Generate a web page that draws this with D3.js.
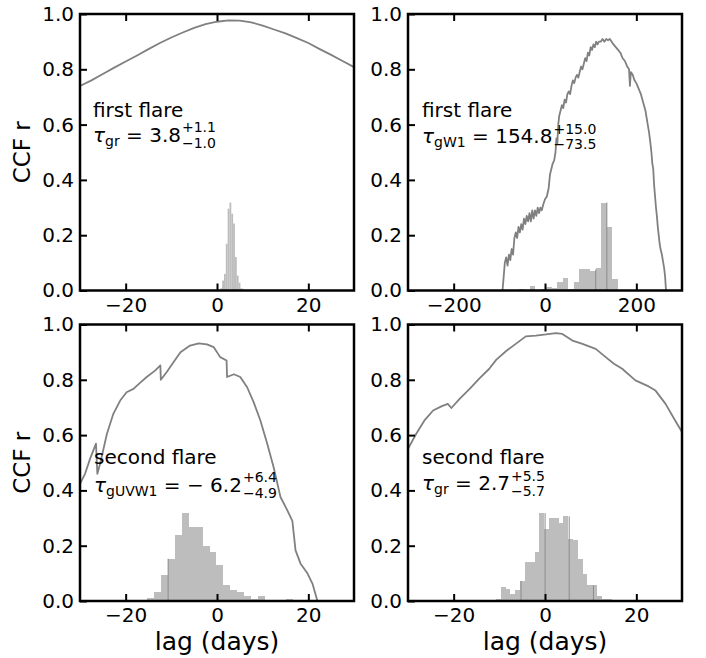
<!DOCTYPE html>
<html><head><meta charset="utf-8">
<script src="https://cdn.jsdelivr.net/npm/d3@7"></script>
<style>body{margin:0;background:#fff} svg{display:block} text{font-family:"DejaVu Sans",sans-serif}</style>
</head><body><svg id="c" width="706" height="658"></svg>
<script>
// ---------- data ----------
const yTicks = [0, 0.2, 0.4, 0.6, 0.8, 1.0];
const xTicksShort = [-20, 0, 20];
const xTicksLong = [-200, 0, 200];

// Panel A: first flare, g vs r
const aLag = [-30,-27.5,-25,-22.5,-20,-17.5,-15,-12.5,-10,-7.5,-5,-2.5,0,2.5,5,7.5,10,12.5,15,17.5,20,22.5,25,27.5,30];
const aR   = [0.740,0.760,0.783,0.806,0.828,0.850,0.873,0.895,0.915,0.933,0.950,0.963,0.972,0.977,0.976,0.970,0.958,0.944,0.930,0.913,0.895,0.873,0.852,0.830,0.808];
const aBinStart = 0.33, aBinWidth = 0.4;
const aHist = [0.002,0.008,0.036,0.060,0.169,0.296,0.318,0.278,0.242,0.121,0.054,0.028,0.008,0.006,0.002];
const aEdges = [];

// Panel B: first flare, g vs W1
const bLag = [-93,-88,-85,-82,-79,-76,-73,-70,-67,-64,-61,-58,-55,-52,-49,-46,-43,-40,-37,-34,-31,-28,-25,-22,-19,-16,-13,-10,-7,-4,0,4,8,11,14,17,20,23,25,27,29,31,34,37,40,43,46,49,52,55,58,61,64,67,70,73,76,79,82,85,88,91,94,97,100,103,106,109,112,115,118,122,126,130,134,138,142,146,150,155,160,165,170,175,180,184,186,188,192,196,200,205,210,215,220,224,228,231,233,235,237,239,241,243,245,247,249,251,253,256,259,261,263,265];
const bR   = [0,0.10,0.12,0.09,0.13,0.11,0.15,0.13,0.19,0.21,0.19,0.23,0.21,0.24,0.22,0.26,0.24,0.27,0.25,0.28,0.25,0.29,0.26,0.29,0.27,0.30,0.28,0.30,0.29,0.31,0.33,0.34,0.37,0.42,0.44,0.46,0.47,0.50,0.55,0.53,0.60,0.63,0.65,0.67,0.66,0.69,0.68,0.71,0.72,0.71,0.74,0.76,0.75,0.77,0.78,0.77,0.79,0.81,0.80,0.82,0.84,0.83,0.86,0.85,0.88,0.87,0.89,0.88,0.90,0.89,0.90,0.90,0.91,0.90,0.91,0.905,0.91,0.90,0.89,0.88,0.87,0.86,0.84,0.83,0.81,0.80,0.74,0.79,0.78,0.76,0.75,0.73,0.71,0.68,0.65,0.61,0.57,0.53,0.50,0.46,0.44,0.38,0.34,0.30,0.27,0.23,0.20,0.17,0.15,0.13,0.10,0.08,0.05,0];
const bBinStart = -57.8, bBinWidth = 12.07;
const bHist = [0.006,0,0.0145,0,0.006,0.012,0.010,0.030,0.0435,0.006,0.030,0.076,0.076,0.069,0.080,0.318,0.228,0.042];
const bEdges = [111.0, 135.4];

// Panel C: second flare, g vs UVW1
const cLag = [-30,-28.9,-27.8,-26.5,-26.2,-25.6,-24.1,-22.7,-21.2,-19.8,-18.3,-16.8,-15.4,-13.5,-12.4,-12.3,-11,-9.5,-8,-5.9,-4,-2.2,-0.7,0.7,2.1,2.2,3.7,5.1,6.6,8,9.5,11,12.4,13.9,15.4,16.5,17.2,18.3,19.8,20.9,22];
const cR   = [0.424,0.46,0.514,0.569,0.46,0.496,0.605,0.677,0.725,0.755,0.767,0.79,0.81,0.834,0.852,0.80,0.828,0.864,0.90,0.924,0.932,0.928,0.918,0.882,0.87,0.81,0.82,0.81,0.773,0.72,0.653,0.569,0.484,0.376,0.328,0.29,0.183,0.135,0.10,0.063,0];
const cBinStart = -18.29, cBinWidth = 1.515;
const cHist = [0.003,0.005,0.012,0.033,0.093,0.153,0.237,0.318,0.267,0.267,0.198,0.177,0.129,0.057,0.041,0.033,0.017,0.007,0.017,0,0,0,0.008];
const cEdges = [-10.7];

// Panel D: second flare, g vs r
const dLag = [-30,-28.2,-26.4,-24.5,-22.7,-21.3,-20.5,-18.7,-16.5,-14.4,-12.2,-10.7,-8.5,-6.4,-4.2,-2,0.2,2.4,3.8,6,8.2,11.1,13.3,15.1,16.9,19.8,22.7,24.2,26.4,28.5,30];
const dR   = [0.55,0.605,0.653,0.689,0.704,0.713,0.698,0.731,0.767,0.804,0.84,0.872,0.904,0.93,0.957,0.96,0.964,0.969,0.966,0.942,0.93,0.912,0.882,0.858,0.84,0.798,0.776,0.761,0.713,0.653,0.611];
const dBinStart = -10.73, dBinWidth = 1.0545;
const dHist = [0.008,0.05,0.045,0.027,0.041,0.072,0.141,0.141,0.177,0.318,0.259,0.301,0.301,0.282,0.306,0.225,0.219,0.153,0.099,0.057,0.057,0.017,0.008,0.008];
const dEdges = [-5.25, 0.02, 5.3, 10.6];

const titles = ["first flare","first flare","second flare","second flare"];
const tauSubs = ["gr","gW1","gUVW1","gr"];
const tauVals = ["3.8","154.8","\u2212 6.2","2.7"];
const tauPlus = ["+1.1","+15.0","+6.4","+5.5"];
const tauMinus = ["\u22121.0","\u221273.5","\u22124.9","\u22125.7"];

// ---------- layout ----------
const W = 274, H = 276.5;
const layout = [
  {x:80,  y:14,  dom:[-30,30],   ticks:xTicksShort, lag:aLag, r:aR, bs:aBinStart, bw:aBinWidth, h:aHist, e:aEdges, crisp:false, xl:false, yl:true,  tx:13, ty1:103, ty2:127.5},
  {x:408, y:14,  dom:[-300,300], ticks:xTicksLong,  lag:bLag, r:bR, bs:bBinStart, bw:bBinWidth, h:bHist, e:bEdges, crisp:true, xl:false, yl:false, tx:14, ty1:103, ty2:129},
  {x:80,  y:324.5, dom:[-30,30], ticks:xTicksShort, lag:cLag, r:cR, bs:cBinStart, bw:cBinWidth, h:cHist, e:cEdges, crisp:true, xl:true,  yl:true,  tx:14, ty1:139.5, ty2:167},
  {x:408, y:324.5, dom:[-30,30], ticks:xTicksShort, lag:dLag, r:dR, bs:dBinStart, bw:dBinWidth, h:dHist, e:dEdges, crisp:true, xl:true,  yl:false, tx:14, ty1:139.5, ty2:165.5}
];

const svg = d3.select("#c");
const defs = svg.append("defs");

layout.forEach((p, i) => {
  const g = svg.append("g").attr("transform", `translate(${p.x},${p.y})`);
  const x = d3.scaleLinear().domain(p.dom).range([0, W]);
  const y = d3.scaleLinear().domain([0, 1]).range([H, 0]);
  defs.append("clipPath").attr("id", "clip" + i).append("rect").attr("width", W).attr("height", H);
  const plot = g.append("g").attr("clip-path", `url(#clip${i})`);

  const bins = p.h.map((v, k) => ({x0: p.bs + k * p.bw, x1: p.bs + (k + 1) * p.bw, v}));
  plot.selectAll("rect.bar").data(bins.filter(b => b.v > 0)).join("rect")
    .attr("class", "bar")
    .attr("x", b => x(b.x0)).attr("width", b => x(b.x1) - x(b.x0))
    .attr("y", b => y(b.v)).attr("height", b => y(0) - y(b.v))
    .attr("fill", "#bdbdbd")
    .attr("shape-rendering", p.crisp ? "crispEdges" : null);

  // faint darker edges inside the histogram
  const hAt = v => { const k = Math.floor((v - p.bs) / p.bw); return Math.max(p.h[k] || 0, p.h[k - 1] || 0); };
  plot.selectAll("line.edge").data(p.e).join("line")
    .attr("class", "edge")
    .attr("x1", d => x(d)).attr("x2", d => x(d))
    .attr("y1", y(0)).attr("y2", d => y(hAt(d)))
    .attr("stroke", "#8c8c8c").attr("stroke-width", 1);

  const line = d3.line().x(d => x(d[0])).y(d => y(d[1]));
  plot.append("path").datum(p.lag.map((l, k) => [l, p.r[k]]))
    .attr("d", line).attr("fill", "none").attr("stroke", "#808080").attr("stroke-width", 1.8)
    .attr("stroke-linejoin", "round");

  // axes
  const ax = g.append("g").attr("transform", `translate(0,${H})`)
    .call(d3.axisBottom(x).tickValues(p.ticks).tickSize(-7).tickPadding(7));
  const axT = g.append("g").call(d3.axisTop(x).tickValues(p.ticks).tickSize(-7).tickFormat(""));
  const ay = g.append("g").call(d3.axisLeft(y).tickValues(yTicks).tickSize(-7).tickPadding(6).tickFormat(d3.format(".1f")));
  [ax, axT, ay].forEach(a => {
    a.select(".domain").remove();
    a.selectAll(".tick line").attr("stroke", "#000").attr("stroke-width", 2);
    a.selectAll(".tick text").attr("font-size", 20).attr("fill", "#000").attr("font-family", "DejaVu Sans");
  });

  g.append("rect").attr("width", W).attr("height", H).attr("fill", "none")
    .attr("stroke", "#000").attr("stroke-width", 2.5);

  // annotation
  g.append("text").attr("x", p.tx).attr("y", p.ty1).attr("font-size", 20).text(titles[i]);
  const t = g.append("text").attr("x", p.tx).attr("y", p.ty2).attr("font-size", 20);
  t.append("tspan").attr("font-style", "italic").text("\u03c4");
  t.append("tspan").attr("font-size", 14).attr("dy", 4).text(tauSubs[i]);
  t.append("tspan").attr("dy", -4).text(" = " + tauVals[i]);
  const len = t.node().getComputedTextLength();
  g.append("text").attr("x", p.tx + len + 1).attr("y", p.ty2 - 9.5).attr("font-size", 14).text(tauPlus[i]);
  g.append("text").attr("x", p.tx + len + 1).attr("y", p.ty2 + 6).attr("font-size", 14).text(tauMinus[i]);

  if (p.yl) {
    g.append("text").attr("transform", `translate(${30 - p.x},${H / 2}) rotate(-90)`)
      .attr("text-anchor", "middle").attr("font-size", 23).text("CCF r");
  }
  if (p.xl) {
    g.append("text").attr("x", W / 2).attr("y", 650 - p.y).attr("text-anchor", "middle")
      .attr("font-size", 25).text("lag (days)");
  }
});
</script></body></html>
